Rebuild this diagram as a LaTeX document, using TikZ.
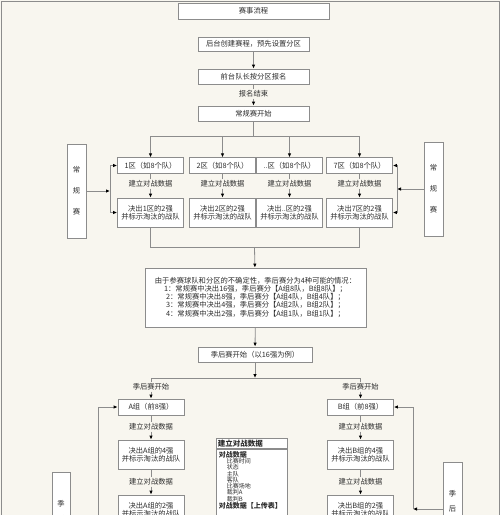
\documentclass[tikz,border=0pt]{standalone}
\usepackage{fontspec}
\setmainfont{Noto Sans CJK SC}
\usepackage{xcolor}
\usetikzlibrary{arrows.meta, positioning}
\definecolor{paper}{RGB}{248,246,239}
\definecolor{framegray}{RGB}{140,140,140}
\definecolor{inkgray}{RGB}{45,45,45}
\newcommand{\zdots}{..}

\begin{document}
\begin{tikzpicture}[x=1pt, y=-1pt,
  flowbox/.style={draw=framegray, fill=white, line width=0.8pt, inner sep=1pt, align=center, text=inkgray, font=\fontsize{7.3}{8}\selectfont},
  resbox/.style={flowbox, minimum width=66pt, minimum height=29pt},
  stepnote/.style={inner sep=1pt, text=inkgray, font=\fontsize{7.3}{8}\selectfont},
  link/.style={draw=framegray, line width=0.8pt},
  arr/.style={link, -{Latex[length=4pt,width=3.5pt,color=black]}}]
\useasboundingbox (0,0) rectangle (500,515);
\clip (0,0) rectangle (500,515);
\fill[paper] (0,0) rectangle (500,515);
\draw[framegray, line width=1pt] (1,515) -- (1,1) -- (499,1) -- (499,515);

% Main chain
\node[flowbox, minimum width=151pt, minimum height=16pt] (title) at (253.5,11) {赛事流程};
\node[flowbox, minimum width=111pt, minimum height=14pt] (create) at (253.5,44) {后台创建赛程，预先设置分区};
\node[flowbox, minimum width=111pt, minimum height=15pt] (signup) at (253.5,76.5) {前台队长按分区报名};
\node[stepnote] (signupend) at (253.5,94) {报名结束};
\node[flowbox, minimum width=111pt, minimum height=15pt] (regstart) at (253.5,113.5) {常规赛开始};
\draw[arr] (create) -- (signup);
\draw[arr] (signup) -- (signupend) -- (regstart);

% Zones
\coordinate (fan) at (253.5,136);
\draw[link] (regstart) -- (fan);
\foreach \i/\x/\zn in {1/150.5/1, 2/222.5/2, 3/289.5/\zdots, 4/359.5/7} {
  \node[flowbox, minimum width=66pt, minimum height=15.5pt] (z\i) at (\x,165.5) {\zn 区（如8个队）};
  \node[stepnote] (zl\i) at (\x,184) {建立对战数据};
  \node[resbox] (r\i) at (\x,212.5) {决出\zn 区的2强\\并标示淘汰的战队};
  \draw[arr] (fan) -| (z\i);
  \draw[arr] (z\i) -- (zl\i) -- (r\i);
}

% Regular season side boxes
\node[flowbox, minimum width=19pt, minimum height=94pt] (regL) at (76.5,191) {常\\[13pt]规\\[13pt]赛};
\node[flowbox, minimum width=19pt, minimum height=94pt] (regR) at (433.5,189) {常\\[13pt]规\\[13pt]赛};
\coordinate (lbus) at (110,191);
\coordinate (rbus) at (397,189);
\draw[arr] (regL) -- (lbus);
\draw[arr] (lbus) |- (z1);
\draw[arr] (lbus) |- (r1);
\draw[arr] (regR) -- (rbus);
\draw[arr] (rbus) |- (z4);
\draw[arr] (rbus) |- (r4);

% Merge into the note
\node[flowbox, minimum width=221pt, minimum height=59pt, font=\fontsize{7.3}{7.2}\selectfont] (info) at (255.5,297.5)
  {由于参赛球队和分区的不确定性，季后赛分为4种可能的情况：\\
   1：常规赛中决出16强，季后赛分【A组8队，B组8队】；\\
   2：常规赛中决出8强，季后赛分【A组4队，B组4队】；\\
   3：常规赛中决出4强，季后赛分【A组2队，B组2队】；\\
   4：常规赛中决出2强，季后赛分【A组1队，B组1队】；};
\coordinate (merge) at (254.5,247);
\draw[link] (r1) |- (merge);
\draw[link] (r4) |- (merge);
\draw[arr] (merge) -- (info);

% Playoffs
\node[flowbox, minimum width=114pt, minimum height=15pt] (playoff) at (255,354.5) {季后赛开始（以16强为例）};
\draw[arr] (info) -- (playoff);
\coordinate (split) at (255,378);
\draw[arr] (playoff) -- (split);
\node[stepnote] (startA) at (151,387) {季后赛开始};
\node[stepnote] (startB) at (360.5,387) {季后赛开始};
\draw[link] (split) -| (startA);
\draw[link] (split) -| (startB);
\foreach \g/\x in {A/151, B/360.5} {
  \node[flowbox, minimum width=66pt, minimum height=16pt] (p\g) at (\x,407) {\g 组（前8强）};
  \node[stepnote] (pl\g1) at (\x,427) {建立对战数据};
  \node[resbox] (p\g4) at (\x,454.5) {决出\g 组的4强\\并标示淘汰的战队};
  \node[stepnote] (pl\g2) at (\x,482) {建立对战数据};
  \node[resbox] (p\g2) at (\x,509.5) {决出\g 组的2强\\并标示淘汰的战队};
  \draw[arr] (start\g) -- (p\g);
  \draw[arr] (p\g) -- (pl\g1) -- (p\g4);
  \draw[arr] (p\g4) -- (pl\g2) -- (p\g2);
}

% Playoff side boxes
\node[flowbox, minimum width=18pt, minimum height=94pt] (poL) at (61,519) {季\\[7pt]后\\[7pt]赛};
\node[flowbox, minimum width=19pt, minimum height=94pt] (poR) at (452.5,509) {季\\[7pt]后\\[7pt]赛};
\coordinate (lpbus) at (98,519);
\coordinate (rpbus) at (413,509);
\draw[arr] (poL) -- (lpbus);
\draw[arr] (lpbus) |- (pA);
\draw[arr] (poR) -- (rpbus);
\draw[arr] (rpbus) |- (pB);

% Match data table
\node[draw=framegray, fill=white, line width=0.8pt, anchor=north west, text width=68pt, align=left,
  inner xsep=1.5pt, inner ysep=1pt, minimum height=10pt, text=inkgray,
  font=\bfseries\fontsize{7.5}{8}\selectfont] (dbhead) at (216,438) {建立对战数据};
\node[draw=framegray, fill=white, line width=0.8pt, anchor=north west, text width=66pt, align=left,
  inner xsep=2.5pt, inner ysep=2pt, text=inkgray,
  font=\fontsize{6}{6.3}\selectfont] (dbbody) at (dbhead.south west)
  {{\bfseries\fontsize{7}{6.3}\selectfont 对战数据}\\
   \hspace*{8pt}比赛时间\\ \hspace*{8pt}状态\\ \hspace*{8pt}主队\\ \hspace*{8pt}客队\\
   \hspace*{8pt}比赛场地\\ \hspace*{8pt}裁判A\\ \hspace*{8pt}裁判B\\
   {\bfseries\fontsize{7}{6.3}\selectfont 对战数据【上传表】}\\[30pt]\mbox{}};
\end{tikzpicture}
\end{document}
